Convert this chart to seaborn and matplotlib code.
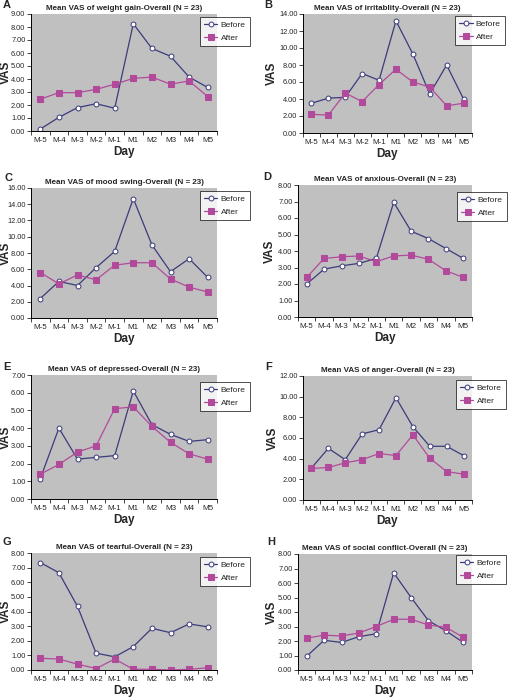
import seaborn as sns
import matplotlib.pyplot as plt
import pandas as pd
import numpy as np
from matplotlib.ticker import FormatStrFormatter

days = ["M-5", "M-4", "M-3", "M-2", "M-1", "M1", "M2", "M3", "M4", "M5"]

titles = [
    "Mean VAS of weight gain-Overall (N = 23)",
    "Mean VAS of irritablity-Overall (N = 23)",
    "Mean VAS of mood swing-Overall (N = 23)",
    "Mean VAS of anxious-Overall (N = 23)",
    "Mean VAS of depressed-Overall (N = 23)",
    "Mean VAS of anger-Overall (N = 23)",
    "Mean VAS of tearful-Overall (N = 23)",
    "Mean VAS of social conflict-Overall (N = 23)",
]
letters = ["A", "B", "C", "D", "E", "F", "G", "H"]

before_weight = [0.15, 1.05, 1.8, 2.1, 1.75, 8.25, 6.35, 5.75, 4.15, 3.35]
after_weight = [2.45, 2.95, 2.95, 3.2, 3.6, 4.05, 4.15, 3.6, 3.85, 2.65]
before_irrit = [3.5, 4.1, 4.2, 7.0, 6.2, 13.2, 9.3, 4.6, 8.0, 4.0]
after_irrit = [2.2, 2.1, 4.7, 3.7, 5.7, 7.5, 6.0, 5.4, 3.2, 3.5]
before_mood = [2.4, 4.5, 4.0, 6.2, 8.2, 14.7, 9.0, 5.7, 7.3, 5.0]
after_mood = [5.6, 4.2, 5.3, 4.7, 6.5, 6.8, 6.8, 4.8, 3.8, 3.2]
before_anx = [2.0, 2.9, 3.1, 3.25, 3.55, 6.95, 5.2, 4.75, 4.15, 3.55]
after_anx = [2.4, 3.55, 3.65, 3.7, 3.35, 3.7, 3.75, 3.5, 2.8, 2.4]
before_dep = [1.15, 4.0, 2.25, 2.35, 2.45, 6.1, 4.2, 3.65, 3.25, 3.35]
after_dep = [1.4, 1.95, 2.65, 3.0, 5.1, 5.2, 4.1, 3.2, 2.55, 2.25]
before_anger = [3.1, 5.0, 3.9, 6.4, 6.8, 9.9, 7.1, 5.2, 5.2, 4.3]
after_anger = [3.05, 3.15, 3.6, 3.9, 4.5, 4.3, 6.3, 4.05, 2.75, 2.5]
before_tear = [7.35, 6.65, 4.35, 1.15, 0.9, 1.6, 2.85, 2.55, 3.15, 2.95]
after_tear = [0.8, 0.75, 0.4, 0.1, 0.75, 0.05, 0.05, 0.0, 0.05, 0.15]
before_social = [0.95, 2.05, 1.9, 2.3, 2.5, 6.7, 5.0, 3.4, 2.7, 1.9]
after_social = [2.2, 2.4, 2.35, 2.55, 3.0, 3.5, 3.5, 3.1, 2.95, 2.25]

befores = [before_weight, before_irrit, before_mood, before_anx,
           before_dep, before_anger, before_tear, before_social]
afters = [after_weight, after_irrit, after_mood, after_anx,
          after_dep, after_anger, after_tear, after_social]
y_max = [9, 14, 16, 8, 7, 12, 8, 8]
y_step = [1, 2, 2, 1, 1, 2, 1, 1]

# pixel boxes (left, top, right, bottom) of the plot areas
boxes = [(31, 14, 217, 131), (303, 14, 472, 133),
         (31, 188, 217, 318), (298, 185, 472, 317),
         (31, 375, 217, 499), (303, 376, 472, 500),
         (31, 553, 217, 670), (298, 554, 472, 670)]
legend_pos = [(200, 17), (455, 16), (200, 191), (457, 192),
              (200, 382), (456, 380), (200, 557), (456, 555)]
letter_pos = [(3, 5), (264, 5), (5, 178), (263, 177),
              (3, 367), (265, 367), (3, 542), (267, 542)]
vas_x = [6, 272, 6, 270, 6, 273, 6, 272]

sns.set_style("white")
plt.rcParams["font.family"] = ["Liberation Sans", "DejaVu Sans"]

W, H = 510, 699
fig = plt.figure(figsize=(W / 100, H / 100), dpi=100)

before_color = "#3b3b7d"
after_color = "#b24a9c"

for i in range(8):
    l, t, r, b = boxes[i]
    ax = fig.add_axes([l / W, 1 - b / H, (r - l) / W, (b - t) / H])
    ax.set_facecolor("#c0c0c0")
    x = np.arange(len(days))
    df = pd.DataFrame({"x": np.concatenate([x, x]),
                       "VAS": befores[i] + afters[i],
                       "group": ["Before"] * 10 + ["After"] * 10})
    sns.lineplot(data=df[df.group == "Before"], x="x", y="VAS", ax=ax,
                 color=before_color, lw=0.9, marker="o", markersize=3.5,
                 markerfacecolor="white", markeredgecolor=before_color,
                 markeredgewidth=0.7, label="Before")
    sns.lineplot(data=df[df.group == "After"], x="x", y="VAS", ax=ax,
                 color=after_color, lw=0.9, marker="s", markersize=4,
                 markerfacecolor=after_color, markeredgecolor=after_color,
                 label="After")
    ax.set_xlim(-0.5, 9.5)
    ax.set_ylim(0, y_max[i])
    ax.set_yticks(np.arange(0, y_max[i] + 0.01, y_step[i]))
    ax.yaxis.set_major_formatter(FormatStrFormatter("%.2f"))
    ax.set_xticks(np.arange(-0.5, 10, 1))
    ax.set_xticklabels([])
    ax.set_xticks(x, minor=True)
    ax.set_xticklabels(days, minor=True)
    ax.tick_params(axis="x", which="major", length=3, width=0.6, direction="out",
                   bottom=True)
    ax.tick_params(axis="x", which="minor", length=0, labelsize=5.8, pad=4.5)
    ax.tick_params(axis="y", length=3, width=0.6, direction="out", left=True,
                   labelsize=5.3, pad=1)
    for s in ["top", "right"]:
        ax.spines[s].set_visible(False)
    for s in ["left", "bottom"]:
        ax.spines[s].set_color("black")
        ax.spines[s].set_linewidth(0.7)
    ax.set_xlabel("Day", fontsize=8.5, fontweight="bold", labelpad=1)
    ax.set_ylabel("VAS", fontsize=8.5, fontweight="bold", va="center")
    ax.yaxis.set_label_coords((vas_x[i] - l) / (r - l), 0.5)
    ax.set_title(titles[i], fontsize=5.8, fontweight="bold", pad=3)
    lx, ly = legend_pos[i]
    leg = ax.legend(loc="upper left", bbox_to_anchor=(lx / W, 1 - ly / H),
                    bbox_transform=fig.transFigure, fontsize=6,
                    frameon=True, fancybox=False, handlelength=1.6,
                    borderpad=0.5, labelspacing=0.6, handletextpad=0.4,
                    borderaxespad=0)
    leg.get_frame().set_edgecolor("black")
    leg.get_frame().set_linewidth(0.6)
    px, py = letter_pos[i]
    fig.text(px / W, 1 - py / H, letters[i], fontsize=8, fontweight="bold",
             va="center", ha="left")

fig.savefig("out.png", dpi=100)
